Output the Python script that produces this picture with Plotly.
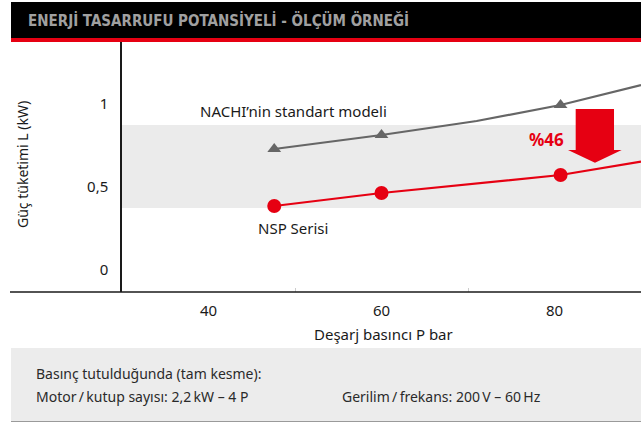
import plotly.graph_objects as go

# ---------------- data ----------------
title_text = "ENERJİ TASARRUFU POTANSİYELİ - ÖLÇÜM ÖRNEĞİ"
x_title = "Deşarj basıncı P bar"
y_title = "Güç tüketimi L (kW)"
x_tick_vals = [40, 60, 80]
x_tick_text = ["40", "60", "80"]
y_tick_vals = [0, 0.5, 1]
y_tick_text = ["0", "0,5", "1"]

# measured points (markers)
measured_pressure = [47.6, 60, 80.7]
standard_measured = [0.726, 0.81, 0.99]
nsp_measured = [0.384, 0.462, 0.57]

# full curves (lines)
standard_curve_pressure = [47.6, 60, 71, 80.7, 90]
standard_curve_power = [0.726, 0.81, 0.894, 0.99, 1.11]
nsp_curve_pressure = [47.6, 60, 80.7, 90]
nsp_curve_power = [0.384, 0.462, 0.57, 0.65]

standard_label = "NACHI’nin standart modeli"
nsp_label = "NSP Serisi"
saving_label = "%46"
band_low, band_high = 0.372, 0.87
note_line1 = "Basınç tutulduğunda (tam kesme):"
note_line2 = "Motor\u2009/\u2009kutup sayısı: 2,2\u2009kW – 4 P"
note_line3 = "Gerilim\u2009/\u2009frekans: 200\u2009V – 60\u2009Hz"

# ---------------- styling ----------------
W, H = 641, 423
L, R, T, B = 122, 0, 42, 131
PW, PH = W - L - R, H - T - B
RED = "#e60012"
GREY = "#666666"
FONT = "Noto Sans"
TXT = "#1a1a1a"


def px(xp):
    return (xp - L) / PW


def py(yp):
    return (H - B - yp) / PH


fig = go.Figure()

fig.add_trace(go.Scatter(x=standard_curve_pressure, y=standard_curve_power, mode="lines",
                         line=dict(color=GREY, width=2.2), hoverinfo="skip", showlegend=False))
fig.add_trace(go.Scatter(x=measured_pressure, y=standard_measured, mode="markers",
                         marker=dict(symbol="triangle-up", size=12, color=GREY), showlegend=False))
fig.add_trace(go.Scatter(x=nsp_curve_pressure, y=nsp_curve_power, mode="lines",
                         line=dict(color=RED, width=2.2), hoverinfo="skip", showlegend=False))
fig.add_trace(go.Scatter(x=measured_pressure, y=nsp_measured, mode="markers",
                         marker=dict(symbol="circle", size=14, color=RED), showlegend=False))

shapes = []
# grey band
shapes.append(dict(type="rect", xref="paper", yref="y", x0=0, x1=1, y0=band_low, y1=band_high,
                   fillcolor="#ebebeb", line=dict(width=0), layer="below"))
# header
shapes.append(dict(type="rect", xref="paper", yref="paper", x0=px(11), x1=px(641), y0=py(38), y1=py(2),
                   fillcolor="#000000", line=dict(width=0)))
shapes.append(dict(type="rect", xref="paper", yref="paper", x0=px(11), x1=px(641), y0=py(42), y1=py(38),
                   fillcolor=RED, line=dict(width=0)))
# x-axis line (extends left of y-axis)
shapes.append(dict(type="line", xref="paper", yref="paper", x0=px(10), x1=1, y0=0, y1=0,
                   line=dict(color=TXT, width=1.5)))
# bottom note box
shapes.append(dict(type="rect", xref="paper", yref="paper", x0=px(11), x1=px(641), y0=py(421), y1=py(348),
                   fillcolor="#ececec", line=dict(width=0)))
shapes.append(dict(type="line", xref="paper", yref="paper", x0=px(11), x1=px(641), y0=py(421.5), y1=py(421.5),
                   line=dict(color="#9a9a9a", width=1.2)))
# red down arrow (annotation graphic)
ax_l, ax_r, hx_l, hx_r, tip_x = 82.45, 86.88, 81.56, 87.77, 84.68
ay_top, ay_head, ay_tip = 0.966, 0.72, 0.644
arrow_path = (f"M {ax_l},{ay_top} L {ax_r},{ay_top} L {ax_r},{ay_head} L {hx_r},{ay_head} "
              f"L {tip_x},{ay_tip} L {hx_l},{ay_head} L {ax_l},{ay_head} Z")
shapes.append(dict(type="path", xref="x", yref="y", path=arrow_path, fillcolor=RED, line=dict(width=0)))

annotations = [
    dict(text=title_text, xref="paper", yref="paper", x=px(26), y=py(21), xanchor="left", yanchor="middle",
         showarrow=False,
         font=dict(family="DejaVu Sans Condensed, Liberation Sans Narrow, Liberation Sans", size=15,
                   color="#a0a0a0", weight="bold")),
    dict(text=y_title, xref="paper", yref="paper", x=px(22), y=py(165), xanchor="center", yanchor="middle",
         textangle=-90, showarrow=False, font=dict(family=FONT, size=14, color=TXT)),
    dict(text=x_title, xref="paper", yref="paper", x=px(383), y=py(334), xanchor="center", yanchor="middle",
         showarrow=False, font=dict(family=FONT, size=15, color=TXT)),
    dict(text=standard_label, xref="x", yref="y", x=49.8, y=0.956, xanchor="center", yanchor="middle",
         showarrow=False, font=dict(family=FONT, size=15, color=TXT)),
    dict(text=nsp_label, xref="x", yref="y", x=49.8, y=0.252, xanchor="center", yanchor="middle",
         showarrow=False, font=dict(family=FONT, size=15, color=TXT)),
    dict(text=f"<b>{saving_label}</b>", xref="x", yref="y", x=79.1, y=0.786, xanchor="center",
         yanchor="middle", showarrow=False, font=dict(family=FONT, size=17, color=RED)),
    dict(text=note_line1, xref="paper", yref="paper", x=px(34), y=py(373), xanchor="left", yanchor="middle",
         showarrow=False, font=dict(family=FONT, size=14, color="#2a2a2a")),
    dict(text=note_line2, xref="paper", yref="paper", x=px(34), y=py(396), xanchor="left", yanchor="middle",
         showarrow=False, font=dict(family=FONT, size=14, color="#2a2a2a")),
    dict(text=note_line3, xref="paper", yref="paper", x=px(340), y=py(396), xanchor="left", yanchor="middle",
         showarrow=False, font=dict(family=FONT, size=14, color="#2a2a2a")),
]

fig.update_layout(
    width=W, height=H, autosize=False,
    margin=dict(l=L, r=R, t=T, b=B, pad=0),
    paper_bgcolor="white", plot_bgcolor="rgba(0,0,0,0)",
    shapes=shapes, annotations=annotations,
    xaxis=dict(range=[30, 90], tickvals=x_tick_vals, ticktext=x_tick_text, showgrid=False, zeroline=False,
               showline=False, ticks="", ticklabelstandoff=8,
               minor=dict(tickvals=[50, 70], ticks="inside", ticklen=4, tickcolor="#cccccc", showgrid=False),
               tickfont=dict(family=FONT, size=15, color=TXT), fixedrange=True),
    yaxis=dict(range=[-0.132, 1.368], tickvals=y_tick_vals, ticktext=y_tick_text, showgrid=False,
               zeroline=False, showline=True, linecolor=TXT, linewidth=1.5, ticks="",
               ticklabelstandoff=9, tickfont=dict(family=FONT, size=15, color=TXT), fixedrange=True),
    hovermode=False,
)

fig.write_html("out.html", config={"displayModeBar": False},
               post_script="document.body.style.margin='0px';document.body.style.overflow='hidden';")
